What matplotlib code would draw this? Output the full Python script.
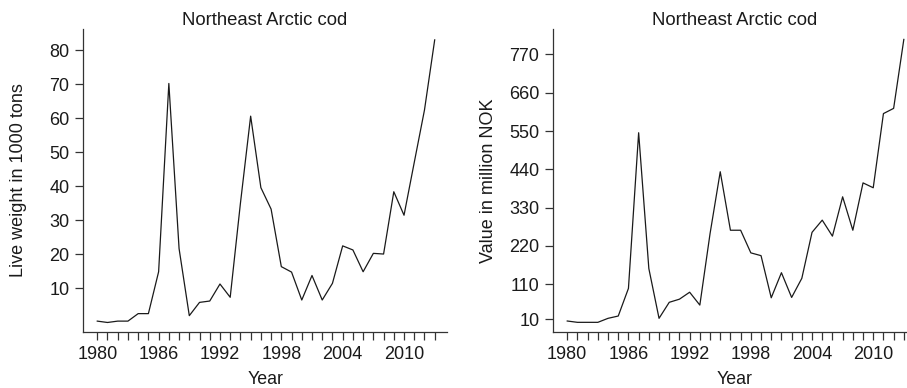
import matplotlib
matplotlib.use("Agg")
import matplotlib.pyplot as plt
from matplotlib.ticker import FixedLocator, FixedFormatter

plt.rcParams['font.family'] = ['Liberation Sans', 'DejaVu Sans']

years = list(range(1980, 2014))

# landings, live weight in 1000 tons
weight = [0.4, 0.0, 0.4, 0.4, 2.6, 2.6, 14.9, 70.2, 21.7, 2.0,
          5.9, 6.3, 11.3, 7.4, 35.0, 60.6, 39.6, 33.3, 16.4, 14.8,
          6.6, 13.8, 6.6, 11.5, 22.5, 21.3, 14.9, 20.3, 20.1, 38.4,
          31.5, 47.0, 62.4, 83.0]

# value in million NOK
value = [4.3, 0.5, 0.5, 0.5, 12, 18.6, 98, 545, 155, 12,
         58, 67, 87, 50, 255, 433, 265, 265, 200, 192,
         71, 143, 72, 127, 259, 294, 248, 361, 265, 401,
         387, 600, 615, 813]

weight_ticks = [10, 20, 30, 40, 50, 60, 70, 80]
value_ticks = [10, 110, 220, 330, 440, 550, 660, 770]
year_labels = [1980, 1986, 1992, 1998, 2004, 2010]

title = "Northeast Arctic cod"
txt = '#1a1a1a'

fig = plt.figure(figsize=(9.07, 3.88), dpi=100)
ax1 = fig.add_axes([0.0918, 0.1443, 0.401, 0.781])
ax2 = fig.add_axes([0.610, 0.1443, 0.400, 0.781])

panels = [
    (ax1, weight, weight_ticks, (-2.8, 86.2), "Live weight in 1000 tons"),
    (ax2, value, value_ticks, (-27.3, 843), "Value in million NOK"),
]

for ax, data, yt, ylim, ylab in panels:
    ax.plot(years, data, color='#1a1a1a', lw=0.9)
    ax.set_xlim(1978.63, 2014.2)
    ax.set_ylim(*ylim)
    ax.spines['top'].set_visible(False)
    ax.spines['right'].set_visible(False)
    for s in ('left', 'bottom'):
        ax.spines[s].set_color('#333333')
        ax.spines[s].set_linewidth(0.9)
    ax.xaxis.set_major_locator(FixedLocator(years))
    ax.xaxis.set_major_formatter(FixedFormatter(
        [str(y) if y in year_labels else '' for y in years]))
    ax.set_yticks(yt)
    ax.set_yticklabels([str(v) for v in yt])
    ax.tick_params(axis='both', length=6, width=0.9, color='#333333',
                   labelsize=13, labelcolor=txt, pad=4)
    ax.set_title(title, fontsize=13.3, color=txt, pad=2.2)
    ax.set_xlabel("Year", fontsize=12.8, color=txt)
    ax.set_ylabel(ylab, fontsize=13, color=txt)
    ax.xaxis.set_label_coords(0.5, -0.128)
    ax.yaxis.set_label_coords(-0.155, 0.5)

fig.savefig('out.png', dpi=100)
